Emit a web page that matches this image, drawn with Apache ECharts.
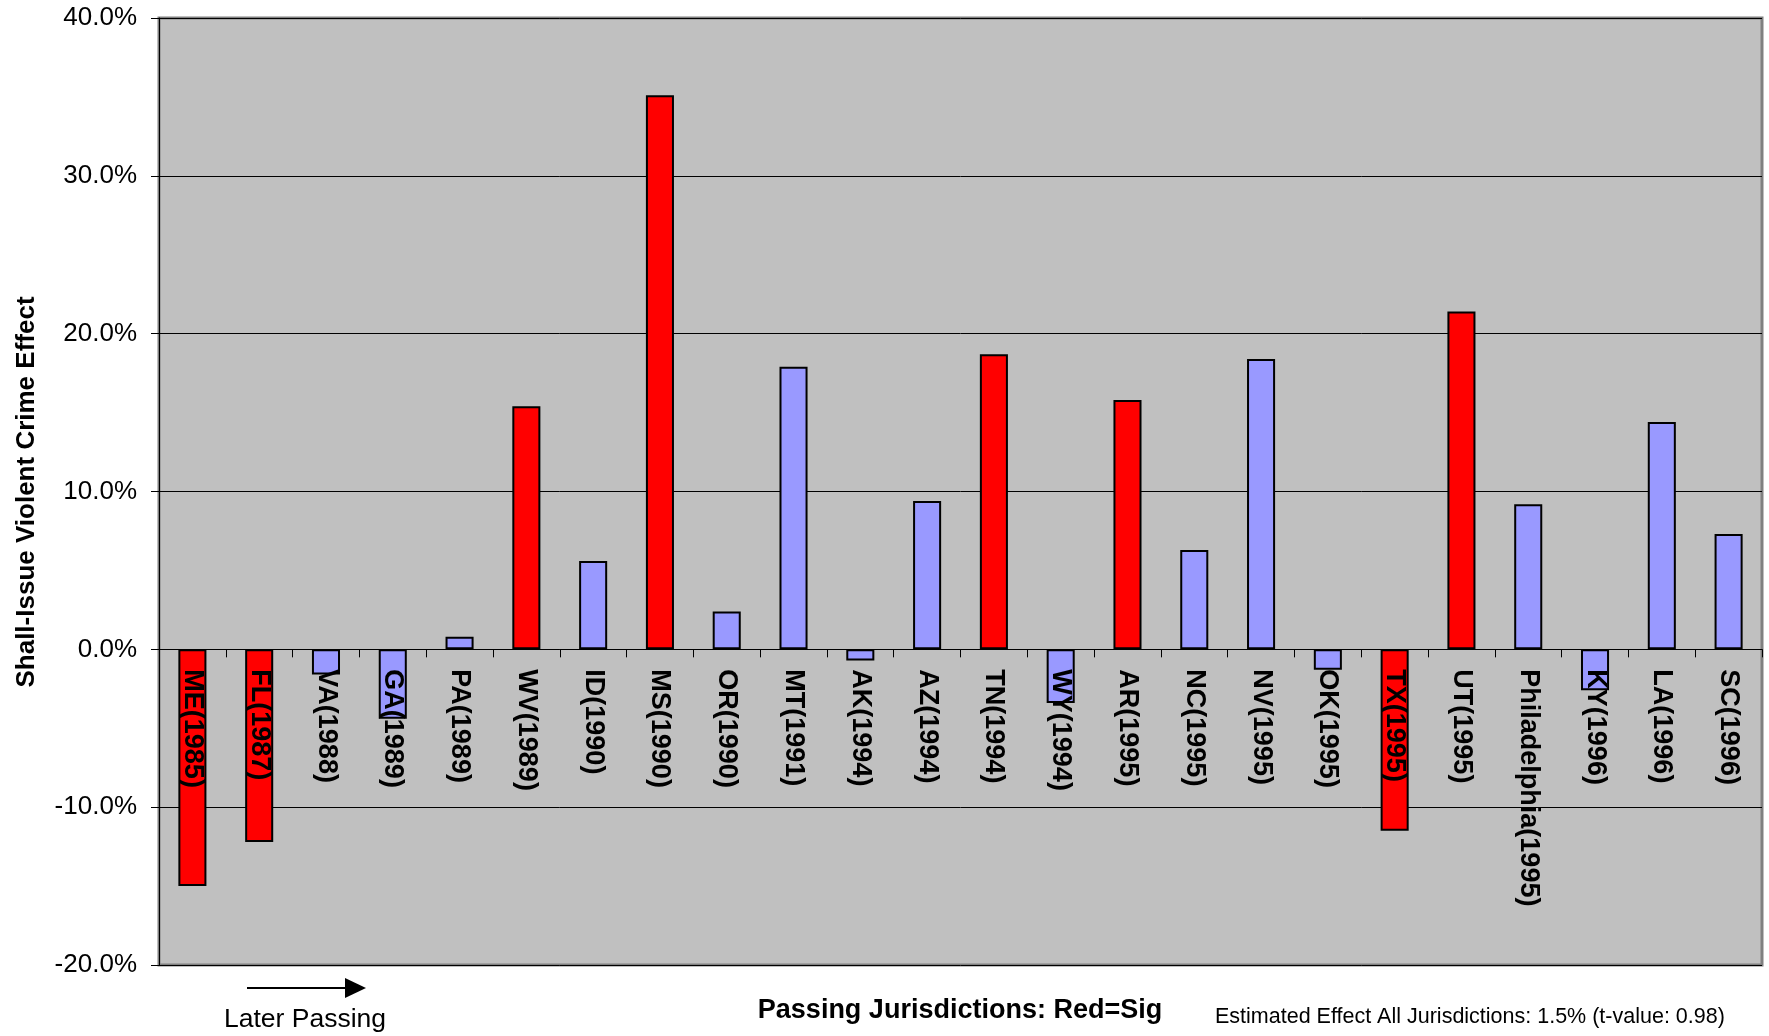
<!DOCTYPE html>
<html>
<head>
<meta charset="utf-8">
<title>Shall-Issue Violent Crime Effect</title>
<script src="https://cdn.jsdelivr.net/npm/echarts@6/dist/echarts.min.js"></script>
<style>
  html, body { margin: 0; padding: 0; background: #ffffff; }
  #chart { width: 1769px; height: 1036px; }
</style>
</head>
<body>
<div id="chart"></div>
<script>
// Jurisdictions in order of passing a shall-issue law
const categories = [
  'ME(1985)', 'FL(1987)', 'VA(1988)', 'GA(1989)', 'PA(1989)', 'WV(1989)',
  'ID(1990)', 'MS(1990)', 'OR(1990)', 'MT(1991)', 'AK(1994)', 'AZ(1994)',
  'TN(1994)', 'WY(1994)', 'AR(1995)', 'NC(1995)', 'NV(1995)', 'OK(1995)',
  'TX(1995)', 'UT(1995)', 'Philadelphia(1995)', 'KY(1996)', 'LA(1996)', 'SC(1996)'
];

// Estimated effect on violent crime, in percent
const effects = [
  -15.0, -12.2, -1.6, -4.4, 0.8, 15.4,
  5.6, 35.1, 2.4, 17.9, -0.7, 9.4,
  18.7, -3.4, 15.8, 6.3, 18.4, -1.3,
  -11.5, 21.4, 9.2, -2.6, 14.4, 7.3
];

// Whether the estimate is statistically significant
const significant = [
  true, true, false, false, false, true,
  false, true, false, false, false, false,
  true, false, true, false, false, false,
  true, true, false, false, false, false
];

// Value axis range and tick step, in percent
const yMin = -20;
const yMax = 40;
const yStep = 10;

const SIG_COLOR = '#FF0000';
const NONSIG_COLOR = '#9999FF';
const FONT = '"Liberation Sans", Arial, Helvetica, sans-serif';

const W = 1769, H = 1036;
const GRID = { left: 159, top: 18, right: 7, bottom: 71 };
const gridHeight = H - GRID.top - GRID.bottom;
// lift the category axis (line, ticks, labels) from the plot bottom up to the 0% line
const zeroOffset = -gridHeight * (0 - yMin) / (yMax - yMin);

const barData = effects.map((v, i) => ({
  value: v,
  itemStyle: { color: significant[i] ? SIG_COLOR : NONSIG_COLOR }
}));

const chart = echarts.init(document.getElementById('chart'), null, { renderer: 'canvas' });

chart.setOption({
  backgroundColor: '#ffffff',
  animation: false,
  grid: {
    left: GRID.left,
    top: GRID.top,
    right: GRID.right,
    bottom: GRID.bottom,
    outerBoundsMode: 'none',
    containLabel: false,
    show: true,
    backgroundColor: '#C0C0C0',
    borderColor: '#808080',
    borderWidth: 3
  },
  xAxis: {
    type: 'category',
    data: categories,
    position: 'bottom',
    offset: zeroOffset,
    z: 5,
    boundaryGap: true,
    axisLine: { show: true, onZero: false, lineStyle: { color: '#000000', width: 1 } },
    axisTick: { show: true, alignWithLabel: false, interval: 0, length: 8, lineStyle: { color: '#000000', width: 1 } },
    axisLabel: {
      interval: 0,
      rotate: -90,
      margin: 20,
      hideOverlap: false,
      color: '#000000',
      fontFamily: FONT,
      fontWeight: 'bold',
      fontSize: 27
    },
    splitLine: { show: false }
  },
  yAxis: {
    type: 'value',
    min: yMin,
    max: yMax,
    interval: yStep,
    axisLine: { show: true, lineStyle: { color: '#000000', width: 1 } },
    axisTick: { show: true, length: 8, lineStyle: { color: '#000000', width: 1 } },
    axisLabel: {
      margin: 22,
      color: '#000000',
      fontFamily: FONT,
      fontSize: 26,
      formatter: v => v.toFixed(1) + '%'
    },
    splitLine: { show: true, lineStyle: { color: '#000000', width: 1 } }
  },
  series: [{
    type: 'bar',
    data: barData,
    barCategoryGap: '58%',
    itemStyle: { borderColor: '#000000', borderWidth: 2 },
    emphasis: { disabled: true }
  }],
  graphic: [
    {
      type: 'text',
      x: 27,
      y: 492,
      rotation: Math.PI / 2,
      style: {
        text: 'Shall-Issue Violent Crime Effect',
        font: 'bold 26px ' + FONT,
        fill: '#000000',
        align: 'center', verticalAlign: 'middle',
        textAlign: 'center', textVerticalAlign: 'middle'
      }
    },
    {
      type: 'text',
      x: 960,
      y: 1011,
      style: {
        text: 'Passing Jurisdictions: Red=Sig',
        font: 'bold 27px ' + FONT,
        fill: '#000000',
        align: 'center', verticalAlign: 'middle',
        textAlign: 'center', textVerticalAlign: 'middle'
      }
    },
    {
      type: 'text',
      x: 1215,
      y: 1017,
      style: {
        text: 'Estimated Effect All Jurisdictions: 1.5% (t-value: 0.98)',
        font: '21.5px ' + FONT,
        fill: '#000000',
        align: 'left', verticalAlign: 'middle',
        textAlign: 'left', textVerticalAlign: 'middle'
      }
    },
    {
      type: 'text',
      x: 224,
      y: 1020,
      style: {
        text: 'Later Passing',
        font: '26.5px ' + FONT,
        fill: '#000000',
        align: 'left', verticalAlign: 'middle',
        textAlign: 'left', textVerticalAlign: 'middle'
      }
    },
    {
      type: 'line',
      shape: { x1: 247, y1: 988, x2: 350, y2: 988 },
      style: { stroke: '#000000', lineWidth: 2 }
    },
    {
      type: 'polygon',
      shape: { points: [[345, 978], [366, 988], [345, 998]] },
      style: { fill: '#000000' }
    }
  ]
});
</script>
</body>
</html>
